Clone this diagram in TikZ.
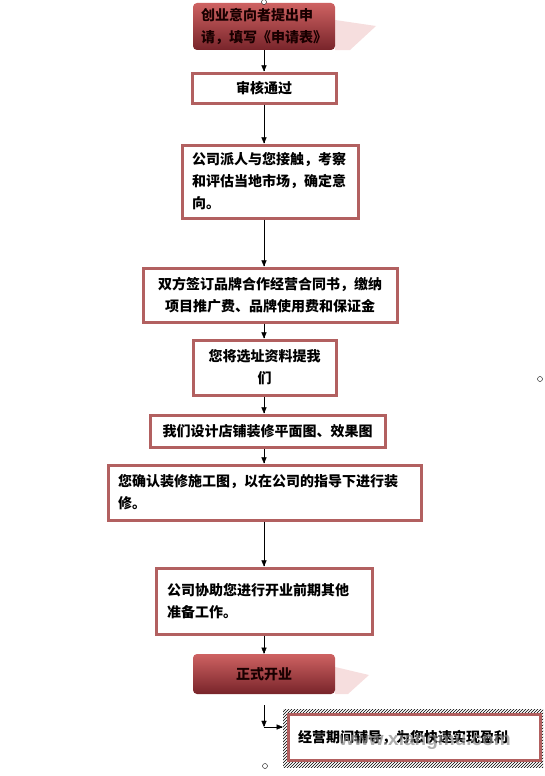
\documentclass[tikz,border=0pt]{standalone}
\usepackage{fontspec}
\setmainfont{Noto Sans CJK SC}
\newfontfamily\wmfont{Liberation Sans}
\usetikzlibrary{arrows,positioning,shadows,patterns,backgrounds,calc}
\definecolor{boxred}{RGB}{178,96,96}
\definecolor{darkred}{RGB}{120,36,42}
\definecolor{litered}{RGB}{206,98,98}
\definecolor{shadepink}{RGB}{246,222,222}

\begin{document}
\begin{tikzpicture}[
    x=1pt, y=-1pt,
    inner sep=0pt, %boxes get their size from minimum width/height
    font=\bfseries\fontsize{14}{22}\selectfont,
    wbox/.style={draw=boxred, line width=3pt, fill=white,
        drop shadow={shadow xshift=2pt, shadow yshift=-2pt, fill=black!30}},
    rbox/.style={rounded corners=4pt, top color=litered, bottom color=darkred,
        text=black!90!red},
    handle/.style={circle, draw=black, fill=white, thin,
        minimum size=5pt},
    >=triangle 45,
    ]
    \useasboundingbox (0,0) rectangle (544,776);

    %Boxes
    \node[rbox, minimum width=142, minimum height=47, align=left] (apply) at (264,26.5)
        {创业意向者提出申\\请，填写《申请表》};
    \node[wbox, minimum width=144, minimum height=30] (review) at (264,88) {审核通过};
    \node[wbox, minimum width=176, minimum height=73, align=left, text width=156] (visit) at (270,181.5)
        {公司派人与您接触，考察\\和评估当地市场，确定意\\向。};
    \node[wbox, minimum width=254, minimum height=54, align=center] (contract) at (270,295)
        {双方签订品牌合作经营合同书，缴纳\\项目推广费、品牌使用费和保证金};
    \node[wbox, minimum width=143, minimum height=55, align=center] (site) at (264.5,367.5)
        {您将选址资料提我\\们};
    \node[wbox, minimum width=235, minimum height=32] (design) at (267.5,431)
        {我们设计店铺装修平面图、效果图};
    \node[wbox, minimum width=313, minimum height=55, align=left, text width=293] (decor) at (264.5,492.5)
        {您确认装修施工图，以在公司的指导下进行装\\修。};
    \node[wbox, minimum width=216, minimum height=66, align=left, text width=194] (prepare) at (264,601)
        {公司协助您进行开业前期其他\\准备工作。};
    \node[rbox, minimum width=142, minimum height=40] (open) at (264,674) {正式开业};

    %last box, hatched frame
    \node[pattern=north east lines, minimum width=260, minimum height=58] (guideframe) at (413,738) {};
    \node[wbox, minimum width=252, minimum height=46, align=left, text width=232] (guide) at (414,737)
        {经营期间辅导，为您快速实现盈利};
    \node[text=black!45, opacity=0.7, font=\wmfont\bfseries\fontsize{19}{19}\selectfont] (mark) at (425,741)
        {www.xiangmu.com};

    %shadows of the red boxes
    \begin{scope}[on background layer]
        \fill[shadepink] (apply.east |- 0,20) -- (376,26) -- (350,50) -- (apply.south east);
        \fill[shadepink] (open.east |- 0,667) -- (369,675) -- (348,694) -- (open.south east);
    \end{scope}

    %Arrows
    \coordinate (axis) at (264,0);
    \draw[->] (apply) -- (review);
    \draw[->] (axis |- review.south) -- (axis |- visit.north);
    \draw[->] (axis |- visit.south) -- (axis |- contract.north);
    \draw[->] (axis |- contract.south) -- (axis |- site.north);
    \draw[->] (axis |- site.south) -- (axis |- design.north);
    \draw[->] (axis |- design.south) -- (axis |- decor.north);
    \draw[->] (axis |- decor.south) -- (axis |- prepare.north);
    \draw[->] (axis |- prepare.south) -- (axis |- open.north);
    \coordinate (elbowtop) at (264,705);
    \coordinate (elbow) at (264,727);
    \draw[->] (elbowtop) -- (elbow);
    \draw[->] (elbow) -- (elbow -| guideframe.west);

    %handles
    \node[handle] (h1) at (264,2) {};
    \node[handle] (h2) at (540,379) {};
    \node[handle] (h3) at (265,766) {};

\end{tikzpicture}
\end{document}
